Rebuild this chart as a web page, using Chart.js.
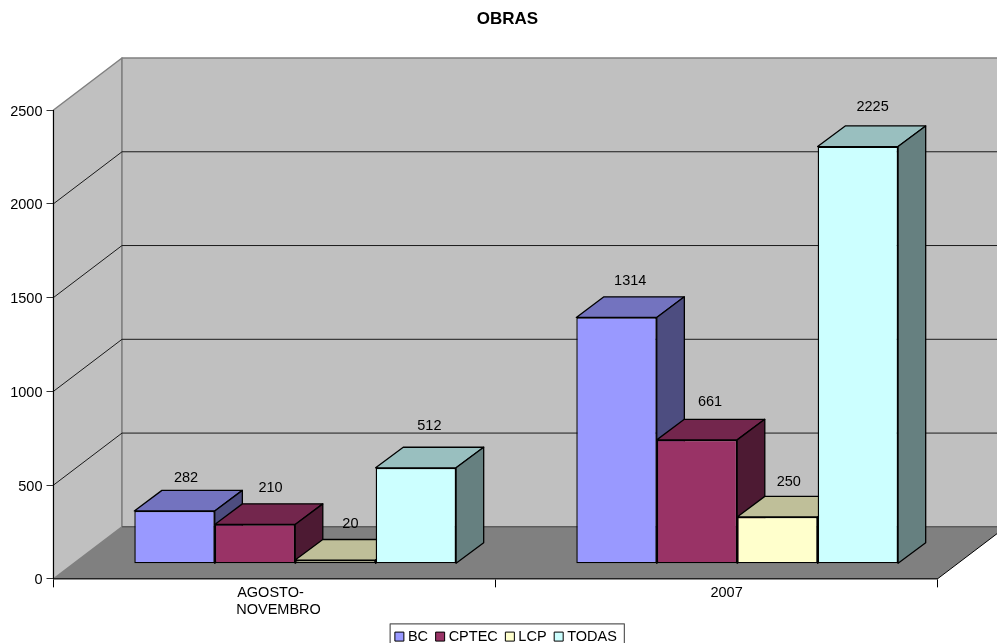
<!DOCTYPE html>
<html>
<head>
<meta charset="utf-8">
<style>html,body{margin:0;padding:0;background:#fff;overflow:hidden}canvas{display:block}</style>
<script src="https://cdn.jsdelivr.net/npm/chart.js@4/dist/chart.umd.js"></script>
</head>
<body>
<canvas id="c" width="997" height="643"></canvas>
<script>
const categories = [["AGOSTO-", "NOVEMBRO"], "2007"];
const seriesNames = ["BC", "CPTEC", "LCP", "TODAS"];
const bcValues = [282, 1314];
const cptecValues = [210, 661];
const lcpValues = [20, 250];
const todasValues = [512, 2225];
const seriesColors = [[153,153,255],[153,51,102],[255,255,204],[204,255,255]];
const yTicks = [0, 500, 1000, 1500, 2000, 2500];

const FONT = '"Liberation Sans", Arial, sans-serif';
const rgb = (c, k) => `rgb(${c.map(v => Math.round(v * k)).join(',')})`;

// 3D projection, in pixels
const WALL = { dx: 68.5, dy: -52 };
const FRONT = { dx: 20.7, dy: -15 };
const DEPTH = { dx: 27.6, dy: -20.6 };
// value-label placement relative to the front face's top centre
const LABEL_OFFSETS = [
  [[11.5, -32.7], [13.7, -36.3]],
  [[15.5, -36], [13.1, -38.3]],
  [[15, -36], [11.3, -34.6]],
  [[13.5, -42], [14.7, -40]]
];

function poly(ctx, pts, fill, stroke, lw) {
  ctx.beginPath();
  pts.forEach((p, i) => i ? ctx.lineTo(p[0], p[1]) : ctx.moveTo(p[0], p[1]));
  ctx.closePath();
  if (fill) { ctx.fillStyle = fill; ctx.fill(); }
  if (stroke) { ctx.strokeStyle = stroke; ctx.lineWidth = lw; ctx.lineJoin = 'round'; ctx.stroke(); }
}

const box3d = {
  id: 'box3d',
  beforeDraw(chart) {
    const { ctx, scales: { x, y } } = chart;
    const L = x.left, R = x.right, T = y.top, B = y.bottom;
    const bx = WALL.dx, by = WALL.dy;
    ctx.save();
    poly(ctx, [[L, T], [L + bx, T + by], [L + bx, B + by], [L, B]], '#c0c0c0', '#808080', 1.5);
    poly(ctx, [[L + bx, T + by], [R + bx, T + by], [R + bx, B + by], [L + bx, B + by]], '#c0c0c0', '#808080', 1.5);
    ctx.strokeStyle = '#1a1a1a';
    ctx.lineWidth = 1;
    yTicks.slice(1, -1).forEach(v => {
      const p = y.getPixelForValue(v);
      ctx.beginPath();
      ctx.moveTo(L, p);
      ctx.lineTo(L + bx, p + by);
      ctx.lineTo(R + bx, p + by);
      ctx.stroke();
    });
    poly(ctx, [[L, B], [L + bx, B + by], [R + bx, B + by], [R, B]], '#808080');
    ctx.strokeStyle = '#5c5c5c';
    ctx.lineWidth = 1.5;
    ctx.beginPath();
    ctx.moveTo(L + bx, B + by);
    ctx.lineTo(R + bx, B + by);
    ctx.stroke();
    ctx.strokeStyle = '#000';
    ctx.lineWidth = 1;
    ctx.beginPath();
    ctx.moveTo(R, B);
    ctx.lineTo(R + bx, B + by);
    ctx.stroke();
    ctx.restore();
  },
  // Bars paint back-to-front in series order, each with its top and side faces.
  beforeDatasetsDraw(chart) {
    const { ctx } = chart;
    chart.data.datasets.forEach((ds, i) => {
      const meta = chart.getDatasetMeta(i);
      const c = seriesColors[i];
      meta.data.forEach(el => {
        const p = el.getProps(['x', 'y', 'width', 'base'], true);
        const l = p.x - p.width / 2 + FRONT.dx, r = p.x + p.width / 2 + FRONT.dx;
        const t = p.y + FRONT.dy, b = p.base + FRONT.dy;
        const d = DEPTH;
        poly(ctx, [[l, t], [l + d.dx, t + d.dy], [r + d.dx, t + d.dy], [r, t]], rgb(c, 0.75), '#000', 1.3);
        poly(ctx, [[r, t], [r + d.dx, t + d.dy], [r + d.dx, b + d.dy], [r, b]], rgb(c, 0.5), '#000', 1.3);
      });
      ctx.save();
      ctx.translate(FRONT.dx, FRONT.dy);
      meta.controller.draw();
      ctx.restore();
    });
    return false;
  },
  afterDraw(chart) {
    const { ctx } = chart;
    ctx.save();
    ctx.font = '14.5px ' + FONT;
    ctx.fillStyle = '#000';
    ctx.textAlign = 'center';
    ctx.textBaseline = 'middle';
    chart.data.datasets.forEach((ds, i) => {
      chart.getDatasetMeta(i).data.forEach((el, j) => {
        const o = LABEL_OFFSETS[i][j];
        ctx.fillText(String(ds.data[j]), el.x + FRONT.dx + o[0], el.y + FRONT.dy + o[1]);
      });
    });
    const lg = chart.legend, hb = lg.legendHitBoxes;
    const first = hb[0], last = hb[hb.length - 1];
    const left = first.left - 8, right = last.left + last.width + 7.5;
    ctx.strokeStyle = '#5a5a5a';
    ctx.lineWidth = 1.2;
    ctx.strokeRect(left, lg.top + 5.4, right - left, 40);
    ctx.restore();
  }
};

const seriesData = [bcValues, cptecValues, lcpValues, todasValues];
new Chart(document.getElementById('c'), {
  type: 'bar',
  plugins: [box3d],
  data: {
    labels: categories,
    datasets: seriesNames.map((name, i) => ({
      label: name,
      data: seriesData[i],
      backgroundColor: rgb(seriesColors[i], 1),
      borderColor: '#000',
      borderWidth: 1.4,
      borderSkipped: false,
      barPercentage: 1,
      categoryPercentage: 0.728
    }))
  },
  options: {
    responsive: false,
    animation: false,
    events: [],
    layout: { padding: { left: 0, right: -18, top: 9, bottom: -10.85 } },
    font: { family: FONT },
    plugins: {
      tooltip: { enabled: false },
      title: {
        display: true,
        text: 'OBRAS',
        color: '#000',
        font: { family: FONT, size: 17, weight: 'bold' },
        padding: { top: 0, bottom: 80.6 }
      },
      legend: {
        position: 'bottom',
        labels: {
          usePointStyle: true,
          boxWidth: 2.5,
          boxHeight: 9,
          padding: 10.85,
          color: '#000',
          font: { family: FONT, size: 14.5 },
          generateLabels(chart) {
            return chart.data.datasets.map((d, i) => ({
              text: d.label,
              fillStyle: d.backgroundColor,
              strokeStyle: '#000',
              lineWidth: 1,
              pointStyle: 'rect',
              datasetIndex: i
            }));
          }
        }
      }
    },
    scales: {
      x: {
        type: 'category',
        afterFit(s) { s.height = 39.65; s.paddingRight = 59.5; s.paddingLeft = 0; },
        grid: { drawOnChartArea: false, tickLength: 8.5, color: '#000', tickColor: '#000', offset: true },
        border: { color: '#222', width: 1.5 },
        ticks: {
          padding: -3.5,
          autoSkip: false,
          maxRotation: 0,
          minRotation: 0,
          color: '#000',
          font: { family: FONT, size: 14.5 },
          callback(v, i) {
            const l = this.getLabelForValue(v);
            return Array.isArray(l)
              ? ['       ' + l[0] + '         ', '  ' + l[1]]
              : '     ' + l;
          }
        }
      },
      y: {
        min: 0,
        max: 2500,
        afterFit(s) { s.width = 53.5; },
        afterBuildTicks(s) { s.ticks = yTicks.map(v => ({ value: v })); },
        grid: { drawOnChartArea: false, tickLength: 7, tickColor: '#333' },
        border: { color: '#000', width: 1 },
        ticks: { padding: 4, labelOffset: 1.5, color: '#000', font: { family: FONT, size: 14.5 }, callback: v => String(v) }
      }
    }
  }
});
</script>
</body>
</html>
